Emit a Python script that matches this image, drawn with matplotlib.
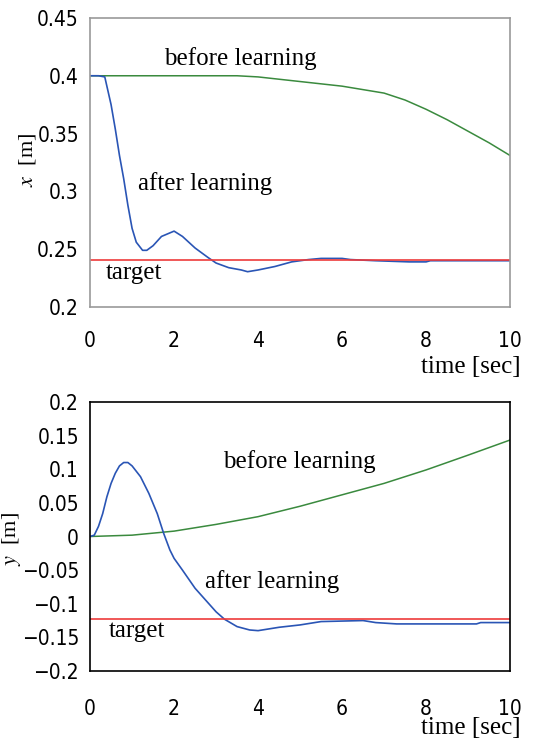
"""
Trajectory before/after learning: x and y position vs time.
"""
import matplotlib
matplotlib.use("Agg")
import matplotlib.pyplot as plt

plt.rcParams["mathtext.fontset"] = "stix"

# ---- data ----
x_before_t = [0, 1, 2, 3, 3.5, 4, 4.5, 5, 5.5, 6, 6.5, 7, 7.5, 8, 8.5, 9, 9.5, 10]
x_before = [0.4, 0.4, 0.4, 0.4, 0.4, 0.399, 0.397, 0.395, 0.393, 0.391, 0.388,
            0.385, 0.379, 0.371, 0.362, 0.352, 0.342, 0.331]

x_after_t = [0, 0.2, 0.35, 0.5, 0.6, 0.7, 0.8, 0.9, 1.0, 1.1, 1.25, 1.35, 1.5, 1.7,
             2.0, 2.2, 2.5, 2.8, 3.0, 3.3, 3.6, 3.75, 4.0, 4.4, 4.8, 5.2, 5.5,
             6.0, 6.2, 6.8, 7.6, 8.0, 8.1, 10]
x_after = [0.4, 0.4, 0.399, 0.375, 0.354, 0.331, 0.311, 0.288, 0.268, 0.256, 0.249,
           0.249, 0.253, 0.261, 0.2656, 0.261, 0.251, 0.243, 0.238, 0.234, 0.232,
           0.2305, 0.232, 0.235, 0.239, 0.241, 0.242, 0.242, 0.241, 0.240, 0.239,
           0.239, 0.240, 0.240]
x_target = 0.241

y_before_t = [0, 1, 2, 3, 4, 5, 6, 7, 8, 9, 10]
y_before = [0.0, 0.002, 0.008, 0.018, 0.0295, 0.045, 0.062, 0.079, 0.099, 0.121, 0.1435]

y_after_t = [0, 0.1, 0.2, 0.3, 0.4, 0.5, 0.6, 0.7, 0.8, 0.9, 1.0, 1.2, 1.4, 1.6, 1.75,
             1.9, 2.0, 2.2, 2.5, 2.8, 3.0, 3.2, 3.5, 3.8, 4.0, 4.5, 5.0, 5.5, 6.5,
             6.8, 7.3, 9.2, 9.3, 10]
y_after = [0.0, 0.002, 0.015, 0.034, 0.059, 0.079, 0.094, 0.105, 0.110, 0.110, 0.105,
           0.089, 0.064, 0.034, 0.005, -0.02, -0.0325, -0.05, -0.077, -0.098, -0.112,
           -0.123, -0.134, -0.139, -0.140, -0.135, -0.1315, -0.1265, -0.125, -0.128,
           -0.130, -0.130, -0.128, -0.128]
y_target = -0.123

x_ticks = [0, 2, 4, 6, 8, 10]
top_yticks = [0.2, 0.25, 0.3, 0.35, 0.4, 0.45]
top_ylabels = ["0.2", "0.25", "0.3", "0.35", "0.4", "0.45"]
bot_yticks = [-0.2, -0.15, -0.1, -0.05, 0, 0.05, 0.1, 0.15, 0.2]
bot_ylabels = ["\u22120.2", "\u22120.15", "\u22120.1", "\u22120.05", "0",
               "0.05", "0.1", "0.15", "0.2"]

GREEN = "#3a8a3e"
BLUE = "#2a55b5"
RED = "#ee3b3b"
TICK_FONT = ["DejaVu Sans"]
SERIF = ["Liberation Serif", "DejaVu Serif"]

fig = plt.figure(figsize=(5.33, 7.42), dpi=100)
ax1 = fig.add_axes([0.169, 0.5863, 0.788, 0.3895])
ax2 = fig.add_axes([0.169, 0.0957, 0.788, 0.3625])


def style(ax, yticks, ylabels, ylim, frame_color, xpad):
    ax.set_xlim(0, 10)
    ax.set_ylim(*ylim)
    ax.set_xticks(x_ticks)
    ax.set_xticklabels([str(t) for t in x_ticks], family=TICK_FONT,
                       fontsize=15, stretch="condensed")
    ax.set_yticks(yticks)
    ax.set_yticklabels(ylabels, family=TICK_FONT, fontsize=15,
                       stretch="condensed")
    ax.tick_params(length=0, pad=8)
    ax.tick_params(axis="x", pad=xpad)
    for s in ax.spines.values():
        s.set_color(frame_color)
        s.set_linewidth(1.2)


# top: x
ax1.plot(x_before_t, x_before, color=GREEN, lw=1.1)
ax1.plot(x_after_t, x_after, color=BLUE, lw=1.2)
ax1.axhline(x_target, color=RED, lw=1.2)
style(ax1, top_yticks, top_ylabels, (0.2, 0.45), "#9a9a9a", 17)
ax1.text(1.75, 0.415, "before learning", family=SERIF, fontsize=18, va="center")
ax1.text(1.13, 0.307, "after learning", family=SERIF, fontsize=18, va="center")
ax1.text(0.38, 0.229, "target", family=SERIF, fontsize=18, va="center")
ax1.set_ylabel(r"$x$  [m]", family=SERIF, fontsize=16)
ax1.yaxis.set_label_coords(-0.124, 0.51)
fig.text(0.976, 1 - 367 / 742, "time [sec]", family=SERIF, fontsize=18,
         ha="right", va="center")

# bottom: y
ax2.plot(y_before_t, y_before, color=GREEN, lw=1.1)
ax2.plot(y_after_t, y_after, color=BLUE, lw=1.2)
ax2.axhline(y_target, color=RED, lw=1.2)
style(ax2, bot_yticks, bot_ylabels, (-0.2, 0.2), "black", 20)
ax2.text(3.17, 0.111, "before learning", family=SERIF, fontsize=18, va="center")
ax2.text(2.74, -0.067, "after learning", family=SERIF, fontsize=18, va="center")
ax2.text(0.44, -0.141, "target", family=SERIF, fontsize=18, va="center")
ax2.set_ylabel(r"$y$  [m]", family=SERIF, fontsize=16)
ax2.yaxis.set_label_coords(-0.16, 0.49)
fig.text(0.976, 1 - 728 / 742, "time [sec]", family=SERIF, fontsize=18,
         ha="right", va="center")

fig.savefig("out.png", dpi=100)
